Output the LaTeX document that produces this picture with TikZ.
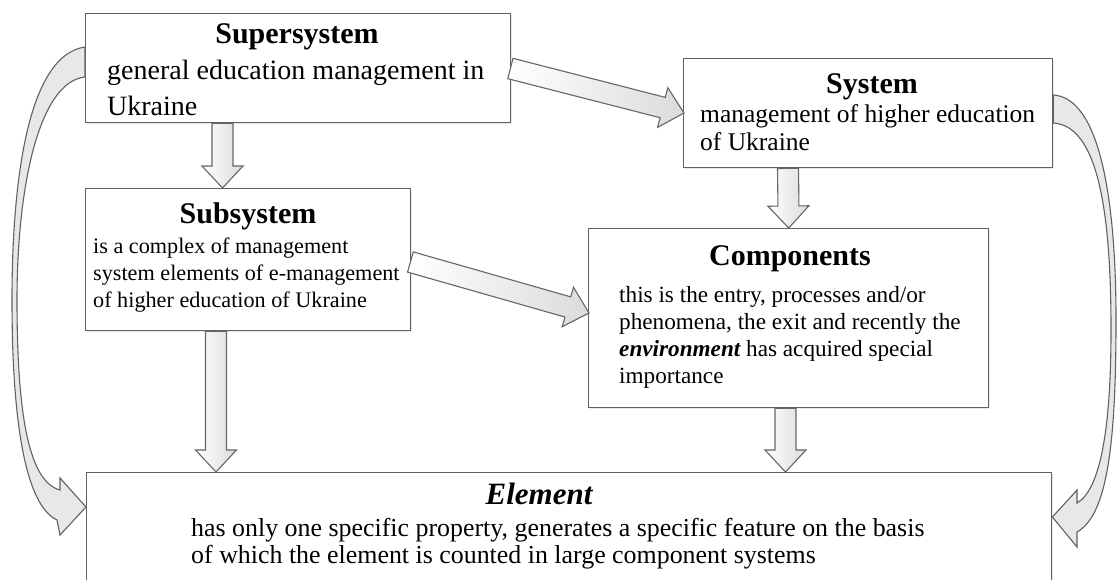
\documentclass[tikz,border=0pt]{standalone}
\usepackage{fontspec}
\setmainfont{Liberation Serif}
\usetikzlibrary{calc,shadows}
\tikzset{
  box/.style={rectangle, draw=black!62, line width=1.4pt, fill=white, anchor=north west, inner sep=0pt,
    drop shadow={opacity=0.18, shadow xshift=1.5pt, shadow yshift=-1.5pt}},
  ttl/.style={anchor=base, inner sep=0pt, font=\fontsize{30}{36}\selectfont\bfseries},
  supbody/.style={anchor=base west, inner sep=0pt, font=\fontsize{28}{34}\selectfont},
  sysbody/.style={anchor=base west, inner sep=0pt, font=\fontsize{25.5}{30}\selectfont},
  subbody/.style={anchor=base west, inner sep=0pt, font=\fontsize{22.2}{27}\selectfont},
  compbody/.style={anchor=base west, inner sep=0pt, font=\fontsize{23.2}{27}\selectfont},
  elembody/.style={anchor=base west, inner sep=0pt, font=\fontsize{25.9}{30}\selectfont},
  elemtitle/.style={anchor=base, inner sep=0pt, font=\fontsize{31}{36}\selectfont\bfseries\itshape},
  blockar/.style={draw=black!60, line width=1.1pt, line join=miter, left color=white, right color=black!14},
  curvar/.style={draw=black!62, line width=1.1pt, fill=black!9},
}
\newcommand{\blockarrow}[2]{%
  \path (#1) coordinate (ba-s);
  \path (#2) coordinate (ba-e);
  \path ($(ba-e)!22pt!(ba-s)$) coordinate (ba-h);
  \path[blockar] ($(ba-s)!10.5pt!90:(ba-e)$) -- ($(ba-h)!10.5pt!90:(ba-e)$)
    -- ($(ba-h)!20.5pt!90:(ba-e)$) -- (ba-e) -- ($(ba-h)!20.5pt!-90:(ba-e)$)
    -- ($(ba-h)!10.5pt!-90:(ba-e)$) -- ($(ba-s)!10.5pt!-90:(ba-e)$) -- cycle;
}
\begin{document}
\begin{tikzpicture}[x=1pt, y=-1pt]
\useasboundingbox (0,0) rectangle (1118,579);
\clip (0,0) rectangle (1118,579);
\fill[white] (0,0) rectangle (1118,579);

% boxes
\node[box, minimum width=425pt, minimum height=109pt] (sup) at (85,13) {};
\node[box, minimum width=369pt, minimum height=109pt] (sys) at (683,58) {};
\node[box, minimum width=325pt, minimum height=142pt] (sub) at (85,188) {};
\node[box, minimum width=400pt, minimum height=179pt] (comp) at (588,228) {};
\node[box, minimum width=965pt, minimum height=160pt] (elem) at (86,472) {};

% texts
\node[ttl] (sup-t) at (297,43) {Supersystem};
\node[supbody] (sup-l1) at (107,79) {general education management in};
\node[supbody] (sup-l2) at (107,115) {Ukraine};

\node[ttl] (sys-t) at (872,93) {System};
\node[sysbody] (sys-l1) at (700,122) {management of higher education};
\node[sysbody] (sys-l2) at (700,150) {of Ukraine};

\node[ttl] (sub-t) at (248,223) {Subsystem};
\node[subbody] (sub-l1) at (93,253) {is a complex of management};
\node[subbody] (sub-l2) at (93,280) {system elements of e-management};
\node[subbody] (sub-l3) at (93,307) {of higher education of Ukraine};

\node[ttl] (comp-t) at (790,265) {Components};
\node[compbody] (comp-l1) at (619,302) {this is the entry, processes and/or};
\node[compbody] (comp-l2) at (619,329) {phenomena, the exit and recently the};
\node[compbody] (comp-l3) at (619,356) {{\bfseries\itshape environment} has acquired special};
\node[compbody] (comp-l4) at (619,383) {importance};

\node[elemtitle] (elem-t) at (539,504) {Element};
\node[elembody] (elem-l1) at (191,536) {has only one specific property, generates a specific feature on the basis};
\node[elembody] (elem-l2) at (191,563) {of which the element is counted in large component systems};

% block arrows
\blockarrow{$(sup.south west)+(137.5,0)$}{$(sub.north west)+(137.5,0)$}
\blockarrow{$(sys.south west)+(105,0)$}{comp.north}
\blockarrow{$(sup.north east)+(-1,55.5)$}{$(sys.north west)+(1,55)$}
\blockarrow{$(sub.north east)+(-1,74)$}{$(comp.north west)+(1,85)$}
\blockarrow{$(sub.south west)+(131,0)$}{$(elem.north west)+(130,0)$}
\blockarrow{$(comp.south west)+(197.5,0)$}{$(elem.north west)+(699.5,0)$}

% curved arrow: Supersystem -> Element (left)
\path[curvar] ($(sup.north west)+(0,64)$)
  .. controls (38,82) and (17,190) .. (17,300)
  .. controls (17,420) and (30,482) .. (60,490)
  -- (60,478) -- ($(elem.north west)+(0,35)$)
  -- (60,535) -- (57,520)
  .. controls (25,505) and (12,420) .. (12,300)
  .. controls (12,180) and (28,55) .. ($(sup.north west)+(0,34)$)
  -- cycle;

% curved arrow: System -> Element (right)
\path[curvar] ($(sys.north east)+(0,37)$)
  .. controls (1100,98) and (1116,200) .. (1116,320)
  .. controls (1116,440) and (1108,515) .. (1077,532)
  -- (1077,547) -- ($(elem.north east)+(0,45)$)
  -- (1077,490) -- (1077,503)
  .. controls (1100,490) and (1111,430) .. (1111,330)
  .. controls (1111,220) and (1100,126) .. ($(sys.north east)+(0,65)$)
  -- cycle;
\end{tikzpicture}
\end{document}
